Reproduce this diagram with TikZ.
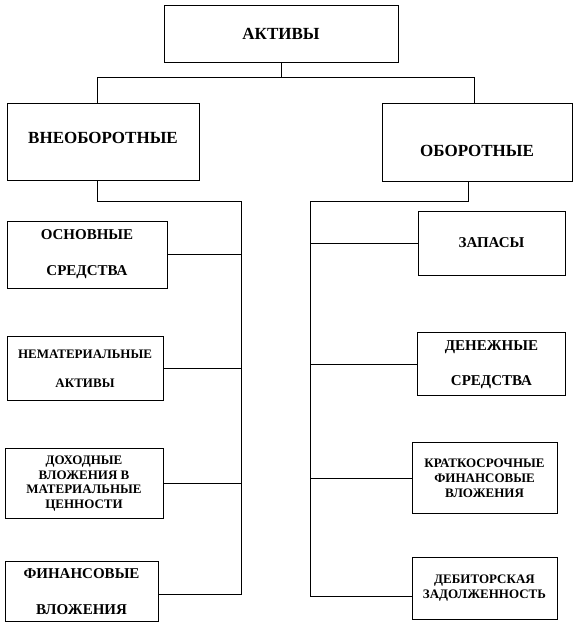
\documentclass[tikz,border=0pt]{standalone}
\usepackage{fontspec}
\setmainfont{Liberation Serif}
\usetikzlibrary{positioning}

\begin{document}
\begin{tikzpicture}[x=1pt,y=-1pt,line width=0.8pt,
box/.style={draw,align=center,inner sep=2pt},
big/.style={box,font=\bfseries\fontsize{17}{20}\selectfont},
mid/.style={box,font=\bfseries\fontsize{15}{18}\selectfont},
small/.style={box,font=\bfseries\fontsize{13}{14.7}\selectfont}]
\useasboundingbox (0,0) rectangle (577,624);
\node[big,minimum width=234pt,minimum height=57pt] (akt) at (281,33.5) {АКТИВЫ};
\node[big,minimum width=192pt,minimum height=77pt,text depth=7pt] (vne) at (103,141.5) {ВНЕОБОРОТНЫЕ};
\node[big,minimum width=190pt,minimum height=78pt,text height=30pt] (obo) at (477,142) {ОБОРОТНЫЕ};
% left column
\node[mid,minimum width=160pt,minimum height=67pt] (osn) at (87,254.5) {ОСНОВНЫЕ\\[18pt]СРЕДСТВА};
\node[small,minimum width=156pt,minimum height=64pt,below=48pt of osn,xshift=-2pt] (nem) {НЕМАТЕРИАЛЬНЫЕ\\[15pt]АКТИВЫ};
\node[small,minimum width=158pt,minimum height=70pt,below=47pt of nem,xshift=-1pt] (doh) {ДОХОДНЫЕ\\ВЛОЖЕНИЯ В\\МАТЕРИАЛЬНЫЕ\\ЦЕННОСТИ};
\node[mid,minimum width=153pt,minimum height=60pt,below=42pt of doh,xshift=-2.5pt] (fin) {ФИНАНСОВЫЕ\\[18pt]ВЛОЖЕНИЯ};
% right column
\node[mid,minimum width=147pt,minimum height=64pt] (zap) at (491.5,243) {ЗАПАСЫ};
\node[mid,minimum width=148pt,minimum height=63pt,below=57pt of zap] (den) {ДЕНЕЖНЫЕ\\[17pt]СРЕДСТВА};
\node[small,minimum width=145pt,minimum height=71pt,below=46pt of den,xshift=-7pt] (krf) {КРАТКОСРОЧНЫЕ\\ФИНАНСОВЫЕ\\ВЛОЖЕНИЯ};
\node[small,minimum width=145pt,minimum height=62pt,below=43pt of krf] (deb) {ДЕБИТОРСКАЯ\\ЗАДОЛЖЕННОСТЬ};
% connectors
\coordinate (ls) at (241,201);
\coordinate (rs) at (310,201);
\draw (akt.south) -- ++(0,15) coordinate (top);
\draw ([xshift=-6pt]vne.north) |- (top) -| ([xshift=-3pt]obo.north);
\draw ([xshift=-6pt]vne.south) |- (ls) |- ([yshift=-3pt]fin.east);
\draw ([xshift=-9pt]obo.south) |- (rs) |- ([yshift=-8pt]deb.west);
\draw (osn.east) -- (osn.east -| ls);
\draw (nem.east) -- (nem.east -| ls);
\draw (doh.east) -- (doh.east -| ls);
\draw (zap.west) -- (zap.west -| rs);
\draw (den.west) -- (den.west -| rs);
\draw (krf.west) -- (krf.west -| rs);
\end{tikzpicture}
\end{document}
